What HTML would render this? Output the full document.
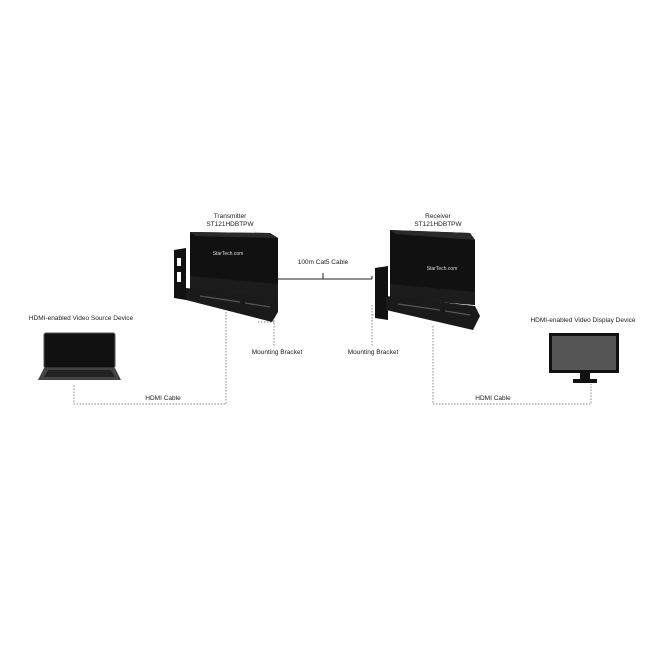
<!DOCTYPE html>
<html><head><style>body{margin:0;background:#fff}svg{display:block}text{font-family:"Liberation Sans",sans-serif;font-size:6.5px;fill:#222;text-anchor:middle}</style></head>
<body>
<svg width="662" height="662" viewBox="0 0 662 662">
<g fill="none" stroke="#888" stroke-width="1" stroke-dasharray="1.5,1.5">
<path d="M226 312V404H74V384"/>
<path d="M274 305V346M258 322H274"/>
<path d="M372 305V346M372 315H388"/>
<path d="M433 326V404H591V384"/>
</g>
<path d="M275 279H372M323 279V273M275 279V276M372 279V276" stroke="#222" stroke-width="1" fill="none"/>
<text x="230" y="218">Transmitter</text><text x="230" y="226">ST121HDBTPW</text>
<text x="438" y="218">Receiver</text><text x="438" y="226">ST121HDBTPW</text>
<text x="323" y="264">100m Cat5 Cable</text>
<text x="277" y="354">Mounting Bracket</text>
<text x="373" y="354">Mounting Bracket</text>
<text x="163" y="400">HDMI Cable</text>
<text x="493" y="400">HDMI Cable</text>
<text x="81" y="320">HDMI-enabled Video Source Device</text>
<text x="583" y="322">HDMI-enabled Video Display Device</text>
<!-- transmitter -->
<path d="M174 250L186 248L186 300L174 298Z" fill="#111"/>
<rect x="177" y="258" width="4" height="8" fill="#fff"/><rect x="177" y="272" width="4" height="10" fill="#fff"/>
<path d="M190 232L270 233L278 238L278 300L190 290Z" fill="#111"/>
<path d="M190 232L270 233L278 238L196 236Z" fill="#2a2a2a"/>
<path d="M190 276L278 284L278 300L190 290Z" fill="#1c1c1c"/>
<path d="M186 288L278 298L278 312L272 322L186 300Z" fill="#1a1a1a"/>
<path d="M200 296L240 302M245 303L270 307" stroke="#555" stroke-width="1.2"/>
<text x="228" y="255" style="fill:#ddd;font-size:5px">StarTech.com</text>
<!-- receiver -->
<path d="M375 268L388 266L388 320L375 318Z" fill="#111"/>
<path d="M390 230L470 233L475 240L475 305L390 298Z" fill="#111"/>
<path d="M390 230L470 233L475 240L396 234Z" fill="#2a2a2a"/>
<path d="M390 284L475 292L475 305L390 298Z" fill="#1c1c1c"/>
<path d="M386 296L475 306L480 316L473 330L386 310Z" fill="#1a1a1a"/>
<path d="M398 304L440 310M445 311L470 315" stroke="#555" stroke-width="1.2"/>
<text x="442" y="270" style="fill:#ddd;font-size:5px">StarTech.com</text>
<!-- laptop -->
<rect x="44" y="333" width="71" height="35" rx="2" fill="#111" stroke="#555"/>
<path d="M44 368H115L121 380H38Z" fill="#444"/>
<path d="M48 370H111L115 377H44Z" fill="#222"/>
<!-- monitor -->
<rect x="549" y="333" width="70" height="40" fill="#111"/>
<rect x="552" y="336" width="64" height="34" fill="#555"/>
<rect x="580" y="373" width="10" height="6" fill="#111"/>
<rect x="573" y="379" width="24" height="4" fill="#111"/>
</svg>
</body></html>
